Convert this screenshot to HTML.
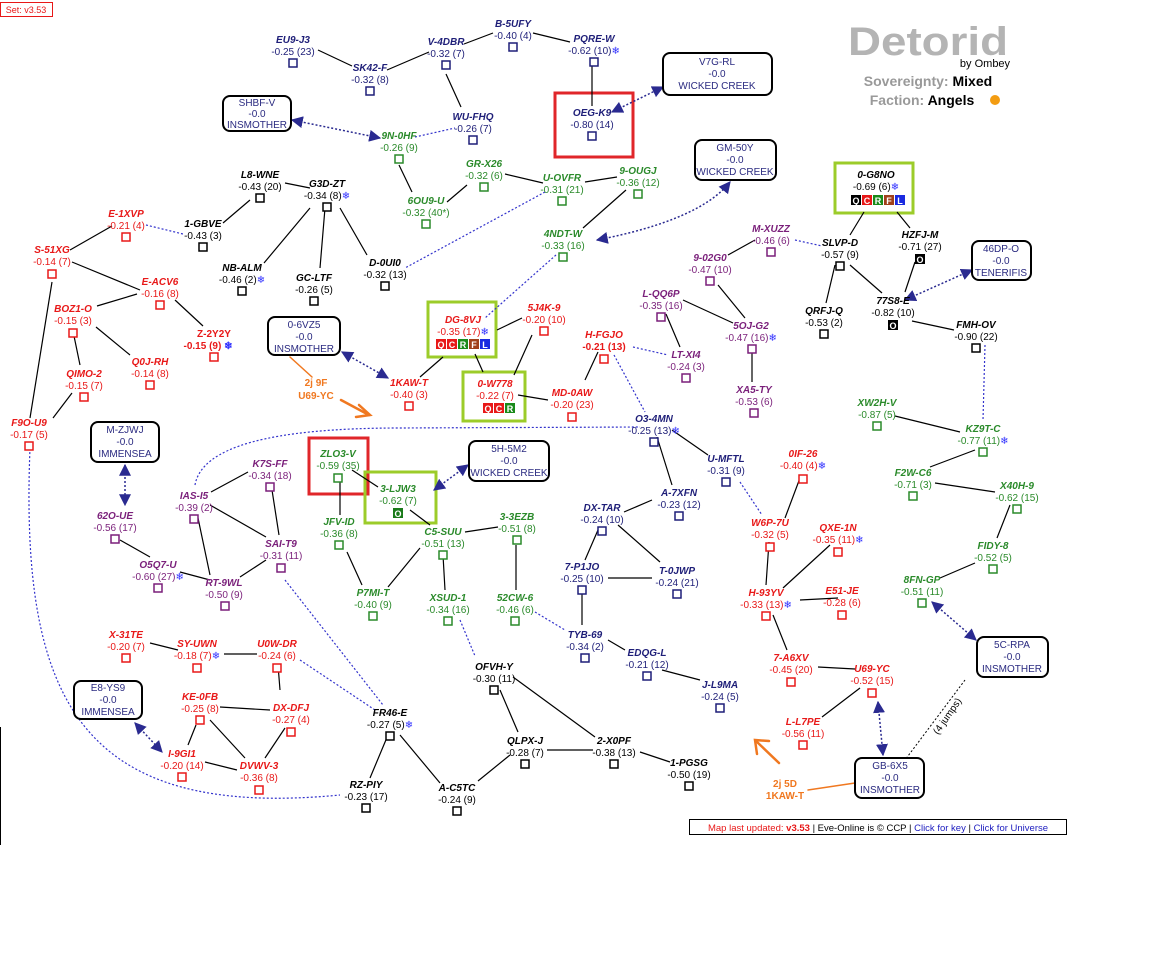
<!DOCTYPE html>
<html><head><meta charset="utf-8"><style>
body{margin:0;background:#fff}
svg{display:block}
text{font-family:"Liberation Sans",sans-serif;font-size:10px;text-anchor:middle}
.n{font-weight:bold;font-style:italic}
.b{fill:#1e1e78}.g{fill:#2a8a2a}.r{fill:#e81818}.p{fill:#7a1f7a}.k{fill:#000}
.sb{stroke:#1e1e78}.sg{stroke:#2a8a2a}.sr{stroke:#e81818}.sp{stroke:#7a1f7a}.sk{stroke:#000}
.e{stroke:#000;stroke-width:1.2;fill:none}
.d{stroke:#3333cc;stroke-width:1.2;stroke-dasharray:2 2;fill:none}
.da{stroke:#2a2a90;stroke-width:1.5;stroke-dasharray:2 2;fill:none}
.box{fill:#fff;stroke:#000;stroke-width:2}
.bt{fill:#2a2a80;font-size:10px}
.sn{fill:#3030ff}
.t text{font-size:9px;font-weight:bold;fill:#fff}
</style></head><body>
<svg width="1164" height="955" viewBox="0 0 1164 955" xmlns="http://www.w3.org/2000/svg">
<defs>
<marker id="ah" viewBox="0 0 10 10" refX="9" refY="5" markerWidth="8" markerHeight="8" orient="auto-start-reverse"><path d="M0,0 L10,5 L0,10 z" fill="#2a2a90"/></marker>
</defs>
<rect x="0.5" y="2.5" width="52" height="14" fill="#fff" stroke="#e81818"/>
<text x="26" y="13" style="font-size:9px;fill:#e81818">Set: v3.53</text>
<line x1="0.5" y1="727" x2="0.5" y2="845" stroke="#000"/>

<!-- title -->
<text x="848" y="55" textLength="160" lengthAdjust="spacingAndGlyphs" style="text-anchor:start;font-size:40px;font-weight:900;fill:#b4b4b4">Detorid</text>
<text x="985" y="67" style="font-size:11px;fill:#000">by Ombey</text>
<text x="928" y="86" style="font-size:14px;font-weight:bold;fill:#999">Sovereignty: <tspan fill="#000">Mixed</tspan></text>
<text x="922" y="105" style="font-size:14px;font-weight:bold;fill:#999">Faction: <tspan fill="#000">Angels</tspan></text>
<circle cx="995" cy="100" r="5" fill="#f39c12"/>

<!-- highlight boxes -->
<rect x="555" y="93" width="78" height="64" fill="none" stroke="#e0262a" stroke-width="3"/>
<rect x="835" y="163" width="78" height="50" fill="none" stroke="#9ccc2a" stroke-width="3"/>
<rect x="428" y="302" width="68" height="55" fill="none" stroke="#9ccc2a" stroke-width="3"/>
<rect x="463" y="372" width="62" height="49" fill="none" stroke="#9ccc2a" stroke-width="3"/>
<rect x="309" y="438" width="59" height="56" fill="none" stroke="#e0262a" stroke-width="3"/>
<rect x="365" y="472" width="71" height="51" fill="none" stroke="#9ccc2a" stroke-width="3"/>

<!-- solid edges -->
<g class="e">
<path d="M318 50L352 66M387 70L429 52M464 44L493 33M533 33L570 42M592 64L592 106M446 74L461 107"/>
<path d="M399 165L412 192M447 202L467 185M505 174L543 183M585 182L617 177M626 190L583 228"/>
<path d="M285 183L310 188M250 200L223 223M310 208L264 263M325 208L320 268M340 208L367 255"/>
<path d="M112 226L70 250M72 262L140 290M52 282L30 418M137 294L97 306M175 300L203 326M96 327L130 355M74 336L80 365M72 393L53 418"/>
<path d="M497 330L522 318M443 357L420 377M475 354L483 372M532 335L514 375M518 395L548 400M598 352L585 380"/>
<path d="M657 437L672 485M672 430L708 455M624 512L652 500M598 530L585 560M618 525L660 562M608 578L652 578M582 592L582 625M608 640L625 650M662 670L700 680"/>
<path d="M755 240L728 255M718 285L745 318M683 300L733 323M666 314L680 347M752 350L752 382"/>
<path d="M835 265L826 303M850 265L882 293M915 262L905 292M864 212L850 235M897 212L910 228M912 321L954 330"/>
<path d="M895 416L960 432M975 450L930 467M935 483L995 492M1010 505L997 538M975 563L940 578"/>
<path d="M785 518L800 478M769 542L766 585M783 588L830 545M800 600L838 598M773 615L787 650M818 667L855 669M860 688L822 717"/>
<path d="M120 540L150 557M180 572L210 580M211 492L248 472M198 518L210 575M210 505L266 537M272 490L279 535M266 560L240 577"/>
<path d="M340 482L340 515M352 470L378 487M410 510L430 525M465 532L498 527M420 548L388 587M347 552L362 585M443 555L445 590M516 545L516 590"/>
<path d="M500 690L518 732M513 677L595 737M547 750L593 750M640 752L670 762M510 755L478 781M400 735L440 783M388 735L370 778"/>
<path d="M150 643L178 650M224 654L257 654M278 665L280 690M220 707L270 710M196 725L188 745M210 720L245 758M285 728L265 758M205 762L237 770"/>
</g>

<!-- dotted links -->
<g class="d">
<path d="M415 137L455 128M545 192L405 268M556 255L485 318M146 225L183 234M795 240L822 246M985 345L983 420"/>
<path d="M614 355L645 412M633 347L668 355M740 482L762 515M460 620L475 656M535 612L565 630M285 580L383 705M300 660L375 710"/>
<path d="M195 485Q205 428 400 428L640 427"/>
<path d="M30 448C20 700 80 820 340 795"/>
</g>
<path d="M965 680L905 760" stroke="#000" stroke-dasharray="2 2" fill="none"/>
<text x="950" y="718" transform="rotate(-55 950 718)" style="font-size:10px;fill:#000">(4 jumps)</text>

<!-- arrows -->
<g class="da">
<path d="M292 120L380 138" marker-start="url(#ah)" marker-end="url(#ah)"/>
<path d="M612 112L663 87" marker-start="url(#ah)" marker-end="url(#ah)"/>
<path d="M597 240Q700 220 730 182" marker-start="url(#ah)" marker-end="url(#ah)"/>
<path d="M905 300L972 270" marker-start="url(#ah)" marker-end="url(#ah)"/>
<path d="M342 352L388 378" marker-start="url(#ah)" marker-end="url(#ah)"/>
<path d="M125 465L125 505" marker-start="url(#ah)" marker-end="url(#ah)"/>
<path d="M434 490L468 465" marker-start="url(#ah)" marker-end="url(#ah)"/>
<path d="M135 723L162 752" marker-start="url(#ah)" marker-end="url(#ah)"/>
<path d="M932 602L976 640" marker-start="url(#ah)" marker-end="url(#ah)"/>
<path d="M878 702L883 755" marker-start="url(#ah)" marker-end="url(#ah)"/>
</g>

<!-- orange -->
<g stroke="#f07820" fill="none" stroke-linecap="round">
<path d="M290 357L312 377" stroke-width="1.5"/>
<path d="M341 400L369 415" stroke-width="2.5"/>
<path d="M359 405L370 415L356 417" stroke-width="2.5"/>
<path d="M779 763L756 741" stroke-width="2.5"/>
<path d="M757 754L755 740L769 741" stroke-width="2.5"/>
<path d="M808 790L855 783" stroke-width="1.5"/>
</g>
<text x="316" y="386" style="font-weight:bold;font-size:10px;fill:#f07820">2j 9F</text>
<text x="316" y="399" style="font-weight:bold;font-size:10px;fill:#f07820">U69-YC</text>
<text x="785" y="787" style="font-weight:bold;font-size:10px;fill:#f07820">2j 5D</text>
<text x="785" y="799" style="font-weight:bold;font-size:10px;fill:#f07820">1KAW-T</text>

<!-- region boxes -->
<g>
<rect class="box" x="223" y="96" width="68" height="35" rx="7"/><text class="bt" x="257" y="106">SHBF-V</text><text class="bt" x="257" y="117">-0.0</text><text class="bt" x="257" y="128">INSMOTHER</text>
<rect class="box" x="663" y="53" width="109" height="42" rx="7"/><text class="bt" x="717" y="65">V7G-RL</text><text class="bt" x="717" y="77">-0.0</text><text class="bt" x="717" y="89">WICKED CREEK</text>
<rect class="box" x="695" y="140" width="81" height="40" rx="7"/><text class="bt" x="735" y="151">GM-50Y</text><text class="bt" x="735" y="163">-0.0</text><text class="bt" x="735" y="175">WICKED CREEK</text>
<rect class="box" x="972" y="241" width="59" height="39" rx="7"/><text class="bt" x="1001" y="252">46DP-O</text><text class="bt" x="1001" y="264">-0.0</text><text class="bt" x="1001" y="276">TENERIFIS</text>
<rect class="box" x="268" y="317" width="72" height="38" rx="7"/><text class="bt" x="304" y="328">0-6VZ5</text><text class="bt" x="304" y="340">-0.0</text><text class="bt" x="304" y="352">INSMOTHER</text>
<rect class="box" x="91" y="422" width="68" height="40" rx="7"/><text class="bt" x="125" y="433">M-ZJWJ</text><text class="bt" x="125" y="445">-0.0</text><text class="bt" x="125" y="457">IMMENSEA</text>
<rect class="box" x="469" y="441" width="80" height="40" rx="7"/><text class="bt" x="509" y="452">5H-5M2</text><text class="bt" x="509" y="464">-0.0</text><text class="bt" x="509" y="476">WICKED CREEK</text>
<rect class="box" x="74" y="681" width="68" height="38" rx="7"/><text class="bt" x="108" y="691">E8-YS9</text><text class="bt" x="108" y="703">-0.0</text><text class="bt" x="108" y="715">IMMENSEA</text>
<rect class="box" x="977" y="637" width="71" height="40" rx="7"/><text class="bt" x="1012" y="648">5C-RPA</text><text class="bt" x="1012" y="660">-0.0</text><text class="bt" x="1012" y="672">INSMOTHER</text>
<rect class="box" x="855" y="758" width="69" height="40" rx="7"/><text class="bt" x="890" y="769">GB-6X5</text><text class="bt" x="890" y="781">-0.0</text><text class="bt" x="890" y="793">INSMOTHER</text>
</g>

<!-- blue -->
<g class="b">
<text class="n" x="293" y="43">EU9-J3</text><text x="293" y="55">-0.25 (23)</text>
<text class="n" x="370" y="71">SK42-F</text><text x="370" y="83">-0.32 (8)</text>
<text class="n" x="446" y="45">V-4DBR</text><text x="446" y="57">-0.32 (7)</text>
<text class="n" x="513" y="27">B-5UFY</text><text x="513" y="39">-0.40 (4)</text>
<text class="n" x="594" y="42">PQRE-W</text><text x="594" y="54">-0.62 (10)<tspan class="sn">❄</tspan></text>
<text class="n" x="592" y="116">OEG-K9</text><text x="592" y="128">-0.80 (14)</text>
<text class="n" x="473" y="120">WU-FHQ</text><text x="473" y="132">-0.26 (7)</text>
<text class="n" x="654" y="422">O3-4MN</text><text x="654" y="434">-0.25 (13)<tspan class="sn">❄</tspan></text>
<text class="n" x="679" y="496">A-7XFN</text><text x="679" y="508">-0.23 (12)</text>
<text class="n" x="726" y="462">U-MFTL</text><text x="726" y="474">-0.31 (9)</text>
<text class="n" x="602" y="511">DX-TAR</text><text x="602" y="523">-0.24 (10)</text>
<text class="n" x="582" y="570">7-P1JO</text><text x="582" y="582">-0.25 (10)</text>
<text class="n" x="677" y="574">T-0JWP</text><text x="677" y="586">-0.24 (21)</text>
<text class="n" x="585" y="638">TYB-69</text><text x="585" y="650">-0.34 (2)</text>
<text class="n" x="647" y="656">EDQG-L</text><text x="647" y="668">-0.21 (12)</text>
<text class="n" x="720" y="688">J-L9MA</text><text x="720" y="700">-0.24 (5)</text>
</g>
<g class="sb" fill="#fff" stroke-width="1.5">
<rect x="289" y="59" width="8" height="8"/><rect x="366" y="87" width="8" height="8"/><rect x="442" y="61" width="8" height="8"/><rect x="509" y="43" width="8" height="8"/><rect x="590" y="58" width="8" height="8"/><rect x="588" y="132" width="8" height="8"/><rect x="469" y="136" width="8" height="8"/><rect x="650" y="438" width="8" height="8"/><rect x="675" y="512" width="8" height="8"/><rect x="722" y="478" width="8" height="8"/><rect x="598" y="527" width="8" height="8"/><rect x="578" y="586" width="8" height="8"/><rect x="673" y="590" width="8" height="8"/><rect x="581" y="654" width="8" height="8"/><rect x="643" y="672" width="8" height="8"/><rect x="716" y="704" width="8" height="8"/>
</g>

<!-- green -->
<g class="g">
<text class="n" x="399" y="139">9N-0HF</text><text x="399" y="151">-0.26 (9)</text>
<text class="n" x="426" y="204">6OU9-U</text><text x="426" y="216">-0.32 (40*)</text>
<text class="n" x="484" y="167">GR-X26</text><text x="484" y="179">-0.32 (6)</text>
<text class="n" x="562" y="181">U-OVFR</text><text x="562" y="193">-0.31 (21)</text>
<text class="n" x="638" y="174">9-OUGJ</text><text x="638" y="186">-0.36 (12)</text>
<text class="n" x="563" y="237">4NDT-W</text><text x="563" y="249">-0.33 (16)</text>
<text class="n" x="877" y="406">XW2H-V</text><text x="877" y="418">-0.87 (5)</text>
<text class="n" x="983" y="432">KZ9T-C</text><text x="983" y="444">-0.77 (11)<tspan class="sn">❄</tspan></text>
<text class="n" x="913" y="476">F2W-C6</text><text x="913" y="488">-0.71 (3)</text>
<text class="n" x="1017" y="489">X40H-9</text><text x="1017" y="501">-0.62 (15)</text>
<text class="n" x="993" y="549">FIDY-8</text><text x="993" y="561">-0.52 (5)</text>
<text class="n" x="922" y="583">8FN-GP</text><text x="922" y="595">-0.51 (11)</text>
<text class="n" x="338" y="457">ZLO3-V</text><text x="338" y="469">-0.59 (35)</text>
<text class="n" x="398" y="492">3-LJW3</text><text x="398" y="504">-0.62 (7)</text>
<text class="n" x="339" y="525">JFV-ID</text><text x="339" y="537">-0.36 (8)</text>
<text class="n" x="443" y="535">C5-SUU</text><text x="443" y="547">-0.51 (13)</text>
<text class="n" x="517" y="520">3-3EZB</text><text x="517" y="532">-0.51 (8)</text>
<text class="n" x="373" y="596">P7MI-T</text><text x="373" y="608">-0.40 (9)</text>
<text class="n" x="448" y="601">XSUD-1</text><text x="448" y="613">-0.34 (16)</text>
<text class="n" x="515" y="601">52CW-6</text><text x="515" y="613">-0.46 (6)</text>
</g>
<g class="sg" fill="#fff" stroke-width="1.5">
<rect x="395" y="155" width="8" height="8"/><rect x="422" y="220" width="8" height="8"/><rect x="480" y="183" width="8" height="8"/><rect x="558" y="197" width="8" height="8"/><rect x="634" y="190" width="8" height="8"/><rect x="559" y="253" width="8" height="8"/><rect x="873" y="422" width="8" height="8"/><rect x="979" y="448" width="8" height="8"/><rect x="909" y="492" width="8" height="8"/><rect x="1013" y="505" width="8" height="8"/><rect x="989" y="565" width="8" height="8"/><rect x="918" y="599" width="8" height="8"/><rect x="334" y="474" width="8" height="8"/><rect x="335" y="541" width="8" height="8"/><rect x="439" y="551" width="8" height="8"/><rect x="513" y="536" width="8" height="8"/><rect x="369" y="612" width="8" height="8"/><rect x="444" y="617" width="8" height="8"/><rect x="511" y="617" width="8" height="8"/>
</g>

<!-- black -->
<g class="k">
<text class="n" x="260" y="178">L8-WNE</text><text x="260" y="190">-0.43 (20)</text>
<text class="n" x="327" y="187">G3D-ZT</text><text x="327" y="199">-0.34 (8)<tspan class="sn">❄</tspan></text>
<text class="n" x="203" y="227">1-GBVE</text><text x="203" y="239">-0.43 (3)</text>
<text class="n" x="242" y="271">NB-ALM</text><text x="242" y="283">-0.46 (2)<tspan class="sn">❄</tspan></text>
<text class="n" x="314" y="281">GC-LTF</text><text x="314" y="293">-0.26 (5)</text>
<text class="n" x="385" y="266">D-0UI0</text><text x="385" y="278">-0.32 (13)</text>
<text class="n" x="876" y="178">0-G8NO</text><text x="876" y="190">-0.69 (6)<tspan class="sn">❄</tspan></text>
<text class="n" x="840" y="246">SLVP-D</text><text x="840" y="258">-0.57 (9)</text>
<text class="n" x="920" y="238">HZFJ-M</text><text x="920" y="250">-0.71 (27)</text>
<text class="n" x="824" y="314">QRFJ-Q</text><text x="824" y="326">-0.53 (2)</text>
<text class="n" x="893" y="304">77S8-E</text><text x="893" y="316">-0.82 (10)</text>
<text class="n" x="976" y="328">FMH-OV</text><text x="976" y="340">-0.90 (22)</text>
<text class="n" x="494" y="670">OFVH-Y</text><text x="494" y="682">-0.30 (11)</text>
<text class="n" x="390" y="716">FR46-E</text><text x="390" y="728">-0.27 (5)<tspan class="sn">❄</tspan></text>
<text class="n" x="525" y="744">QLPX-J</text><text x="525" y="756">-0.28 (7)</text>
<text class="n" x="614" y="744">2-X0PF</text><text x="614" y="756">-0.38 (13)</text>
<text class="n" x="689" y="766">1-PGSG</text><text x="689" y="778">-0.50 (19)</text>
<text class="n" x="366" y="788">RZ-PIY</text><text x="366" y="800">-0.23 (17)</text>
<text class="n" x="457" y="791">A-C5TC</text><text x="457" y="803">-0.24 (9)</text>
</g>
<g class="sk" fill="#fff" stroke-width="1.5">
<rect x="256" y="194" width="8" height="8"/><rect x="323" y="203" width="8" height="8"/><rect x="199" y="243" width="8" height="8"/><rect x="238" y="287" width="8" height="8"/><rect x="310" y="297" width="8" height="8"/><rect x="381" y="282" width="8" height="8"/><rect x="836" y="262" width="8" height="8"/><rect x="820" y="330" width="8" height="8"/><rect x="972" y="344" width="8" height="8"/><rect x="490" y="686" width="8" height="8"/><rect x="386" y="732" width="8" height="8"/><rect x="521" y="760" width="8" height="8"/><rect x="610" y="760" width="8" height="8"/><rect x="685" y="782" width="8" height="8"/><rect x="362" y="804" width="8" height="8"/><rect x="453" y="807" width="8" height="8"/>
</g>
<g class="t">
<rect x="915" y="254" width="10" height="10" fill="#000"/><text x="920" y="263">O</text>
<rect x="888" y="320" width="10" height="10" fill="#000"/><text x="893" y="329">O</text>
<rect x="393" y="508" width="10" height="10" fill="#1a7a1a"/><text x="398" y="517">O</text>
<rect x="851" y="195" width="10" height="10" fill="#000"/><text x="856" y="204">Q</text>
<rect x="862" y="195" width="10" height="10" fill="#e81818"/><text x="867" y="204">C</text>
<rect x="873" y="195" width="10" height="10" fill="#1a8a1a"/><text x="878" y="204">R</text>
<rect x="884" y="195" width="10" height="10" fill="#a0401a"/><text x="889" y="204">F</text>
<rect x="895" y="195" width="10" height="10" fill="#1a2ae0"/><text x="900" y="204">L</text>
<rect x="436" y="339" width="10" height="10" fill="#e81818"/><text x="441" y="348">Q</text>
<rect x="447" y="339" width="10" height="10" fill="#e81818"/><text x="452" y="348">C</text>
<rect x="458" y="339" width="10" height="10" fill="#1a8a1a"/><text x="463" y="348">R</text>
<rect x="469" y="339" width="10" height="10" fill="#a0401a"/><text x="474" y="348">F</text>
<rect x="480" y="339" width="10" height="10" fill="#1a2ae0"/><text x="485" y="348">L</text>
<rect x="483" y="403" width="10" height="10" fill="#e81818"/><text x="488" y="412">Q</text>
<rect x="494" y="403" width="10" height="10" fill="#e81818"/><text x="499" y="412">C</text>
<rect x="505" y="403" width="10" height="10" fill="#1a8a1a"/><text x="510" y="412">R</text>
</g>

<!-- red -->
<g class="r">
<text class="n" x="126" y="217">E-1XVP</text><text x="126" y="229">-0.21 (4)</text>
<text class="n" x="52" y="253">S-51XG</text><text x="52" y="265">-0.14 (7)</text>
<text class="n" x="160" y="285">E-ACV6</text><text x="160" y="297">-0.16 (8)</text>
<text class="n" x="73" y="312">BOZ1-O</text><text x="73" y="324">-0.15 (3)</text>
<text x="214" y="337" font-weight="bold">Z-2Y2Y</text><text x="208" y="349" font-weight="bold">-0.15 (9) <tspan class="sn">❄</tspan></text>
<text class="n" x="150" y="365">Q0J-RH</text><text x="150" y="377">-0.14 (8)</text>
<text class="n" x="84" y="377">QIMO-2</text><text x="84" y="389">-0.15 (7)</text>
<text class="n" x="29" y="426">F9O-U9</text><text x="29" y="438">-0.17 (5)</text>
<text class="n" x="463" y="323">DG-8VJ</text><text x="463" y="335">-0.35 (17)<tspan class="sn">❄</tspan></text>
<text class="n" x="544" y="311">5J4K-9</text><text x="544" y="323">-0.20 (10)</text>
<text class="n" x="409" y="386">1KAW-T</text><text x="409" y="398">-0.40 (3)</text>
<text class="n" x="495" y="387">0-W778</text><text x="495" y="399">-0.22 (7)</text>
<text class="n" x="572" y="396">MD-0AW</text><text x="572" y="408">-0.20 (23)</text>
<text class="n" x="604" y="338">H-FGJO</text><text x="604" y="350" font-weight="bold">-0.21 (13)</text>
<text class="n" x="803" y="457">0IF-26</text><text x="803" y="469">-0.40 (4)<tspan class="sn">❄</tspan></text>
<text class="n" x="770" y="526">W6P-7U</text><text x="770" y="538">-0.32 (5)</text>
<text class="n" x="838" y="531">QXE-1N</text><text x="838" y="543">-0.35 (11)<tspan class="sn">❄</tspan></text>
<text class="n" x="766" y="596">H-93YV</text><text x="766" y="608">-0.33 (13)<tspan class="sn">❄</tspan></text>
<text class="n" x="842" y="594">E51-JE</text><text x="842" y="606">-0.28 (6)</text>
<text class="n" x="791" y="661">7-A6XV</text><text x="791" y="673">-0.45 (20)</text>
<text class="n" x="872" y="672">U69-YC</text><text x="872" y="684">-0.52 (15)</text>
<text class="n" x="803" y="725">L-L7PE</text><text x="803" y="737">-0.56 (11)</text>
<text class="n" x="126" y="638">X-31TE</text><text x="126" y="650">-0.20 (7)</text>
<text class="n" x="197" y="647">SY-UWN</text><text x="197" y="659">-0.18 (7)<tspan class="sn">❄</tspan></text>
<text class="n" x="277" y="647">U0W-DR</text><text x="277" y="659">-0.24 (6)</text>
<text class="n" x="200" y="700">KE-0FB</text><text x="200" y="712">-0.25 (8)</text>
<text class="n" x="291" y="711">DX-DFJ</text><text x="291" y="723">-0.27 (4)</text>
<text class="n" x="182" y="757">I-9GI1</text><text x="182" y="769">-0.20 (14)</text>
<text class="n" x="259" y="769">DVWV-3</text><text x="259" y="781">-0.36 (8)</text>
</g>
<g class="sr" fill="#fff" stroke-width="1.5">
<rect x="122" y="233" width="8" height="8"/><rect x="48" y="270" width="8" height="8"/><rect x="156" y="301" width="8" height="8"/><rect x="69" y="329" width="8" height="8"/><rect x="210" y="353" width="8" height="8"/><rect x="146" y="381" width="8" height="8"/><rect x="80" y="393" width="8" height="8"/><rect x="25" y="442" width="8" height="8"/><rect x="540" y="327" width="8" height="8"/><rect x="405" y="402" width="8" height="8"/><rect x="568" y="413" width="8" height="8"/><rect x="600" y="355" width="8" height="8"/><rect x="799" y="475" width="8" height="8"/><rect x="766" y="543" width="8" height="8"/><rect x="834" y="548" width="8" height="8"/><rect x="762" y="612" width="8" height="8"/><rect x="838" y="611" width="8" height="8"/><rect x="787" y="678" width="8" height="8"/><rect x="868" y="689" width="8" height="8"/><rect x="799" y="741" width="8" height="8"/><rect x="122" y="654" width="8" height="8"/><rect x="193" y="664" width="8" height="8"/><rect x="273" y="664" width="8" height="8"/><rect x="196" y="716" width="8" height="8"/><rect x="287" y="728" width="8" height="8"/><rect x="178" y="773" width="8" height="8"/><rect x="255" y="786" width="8" height="8"/>
</g>

<!-- purple -->
<g class="p">
<text class="n" x="771" y="232">M-XUZZ</text><text x="771" y="244">-0.46 (6)</text>
<text class="n" x="710" y="261">9-02G0</text><text x="710" y="273">-0.47 (10)</text>
<text class="n" x="661" y="297">L-QQ6P</text><text x="661" y="309">-0.35 (16)</text>
<text class="n" x="751" y="329">5OJ-G2</text><text x="751" y="341">-0.47 (16)<tspan class="sn">❄</tspan></text>
<text class="n" x="686" y="358">LT-XI4</text><text x="686" y="370">-0.24 (3)</text>
<text class="n" x="754" y="393">XA5-TY</text><text x="754" y="405">-0.53 (6)</text>
<text class="n" x="115" y="519">62O-UE</text><text x="115" y="531">-0.56 (17)</text>
<text class="n" x="158" y="568">O5Q7-U</text><text x="158" y="580">-0.60 (27)<tspan class="sn">❄</tspan></text>
<text class="n" x="194" y="499">IAS-I5</text><text x="194" y="511">-0.39 (2)</text>
<text class="n" x="270" y="467">K7S-FF</text><text x="270" y="479">-0.34 (18)</text>
<text class="n" x="281" y="547">SAI-T9</text><text x="281" y="559">-0.31 (11)</text>
<text class="n" x="224" y="586">RT-9WL</text><text x="224" y="598">-0.50 (9)</text>
</g>
<g class="sp" fill="#fff" stroke-width="1.5">
<rect x="767" y="248" width="8" height="8"/><rect x="706" y="277" width="8" height="8"/><rect x="657" y="313" width="8" height="8"/><rect x="748" y="345" width="8" height="8"/><rect x="682" y="374" width="8" height="8"/><rect x="750" y="409" width="8" height="8"/><rect x="111" y="535" width="8" height="8"/><rect x="154" y="584" width="8" height="8"/><rect x="190" y="515" width="8" height="8"/><rect x="266" y="483" width="8" height="8"/><rect x="277" y="564" width="8" height="8"/><rect x="221" y="602" width="8" height="8"/>
</g>

<!-- footer -->
<rect x="689.5" y="819.5" width="377" height="15" fill="#fff" stroke="#000"/>
<text x="878" y="831" style="font-size:9.5px;fill:#000"><tspan fill="#e81818">Map last updated: <tspan font-weight="bold">v3.53</tspan></tspan> | Eve-Online is © CCP | <tspan fill="#2020c0">Click for key</tspan> | <tspan fill="#2020c0">Click for Universe</tspan></text>
</svg>
</body></html>
